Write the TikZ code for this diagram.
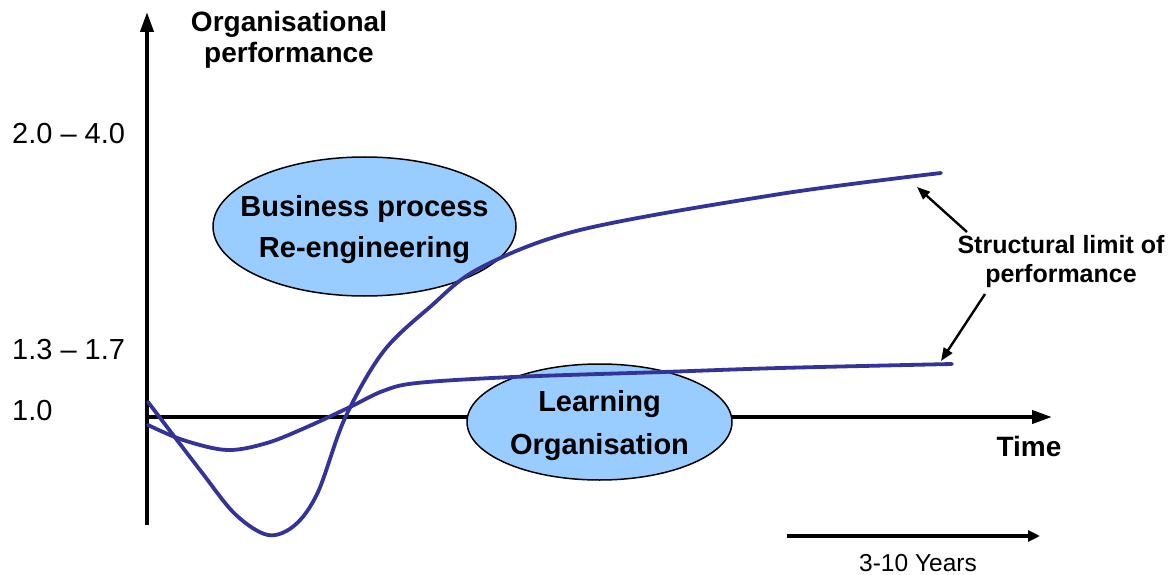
\documentclass[tikz,border=0pt]{standalone}
\usepackage{fontspec}
\setmainfont{Liberation Sans}
\usetikzlibrary{shapes.geometric,arrows.meta}
\definecolor{curveblue}{RGB}{51,51,153}
\definecolor{bubblefill}{RGB}{153,204,255}
\tikzset{
  axis/.style={line width=4pt,-{Triangle[length=20pt,width=13pt]}},
  bubble/.style={ellipse,draw=black,line width=1.5pt,fill=bubblefill,inner sep=0pt},
  curve/.style={line width=3.8pt,draw=curveblue,line join=round,line cap=round},
  note/.style={line width=2.4pt,-{Triangle[length=13pt,width=10pt]}},
  lbl/.style={font=\fontsize{29}{41}\selectfont\bfseries,align=center,inner sep=0pt},
  val/.style={font=\fontsize{29}{34}\selectfont,anchor=west,inner sep=0pt}
}
\begin{document}
\begin{tikzpicture}[x=1pt,y=-1pt]
    \useasboundingbox (0,0) rectangle (1176,575);

    % axes
    \coordinate (origin) at (147,417);
    \coordinate (ytop) at (147,12);
    \coordinate (ybot) at (147,525);
    \coordinate (xend) at (1052,417);
    \draw[axis] (ybot) -- (ytop);
    \draw[axis] (origin) -- (xend);

    \node[lbl,font=\fontsize{28}{31}\selectfont\bfseries] (perf) at (289,40) {Organisational\\performance};
    \node[lbl,font=\fontsize{28}{31}\selectfont\bfseries] (time) at (1029,446) {Time};

    % values on the vertical axis
    \foreach \y/\txt in {134/{2.0 -- 4.0}, 350/{1.3 -- 1.7}, 411/{1.0}} {
        \node[val] (tick\y) at (12,\y) {\txt};
    }

    % the two approaches
    \node[bubble,minimum width=303pt,minimum height=139pt] (bpr) at (364.5,226.5) {};
    \node[lbl] (bprtext) at (364.5,230) {Business process\\Re-engineering};
    \node[bubble,minimum width=265pt,minimum height=116pt] (learn) at (599.5,422) {};
    \node[lbl,font=\fontsize{29}{43}\selectfont\bfseries] (learntext) at (599.5,426) {Learning\\Organisation};

    % performance curves
    \draw[curve] plot[smooth,tension=0.55] coordinates {(148,402) (200,470) (235,514) (268,535)
        (295,525) (318,492) (345,418) (383,352) (430,307) (480,268) (580,230) (780,194) (941,173)};
    \draw[curve] plot[smooth,tension=0.55] coordinates {(148,425) (183,440) (227,450) (267,443)
        (307,427) (350,407) (383,391) (417,383) (513,377) (663,372) (780,368) (952,364)};

    % structural limits
    \node[lbl,font=\fontsize{25}{29}\selectfont\bfseries] (limit) at (1061,262) {Structural limit of\\performance};
    \coordinate (limtop) at (967,232);
    \coordinate (limbot) at (985,294);
    \coordinate (bprend) at (917,187);
    \coordinate (learnend) at (941,361);
    \draw[note] (limtop) -- (bprend);
    \draw[note] (limbot) -- (learnend);

    % duration
    \coordinate (yrstart) at (787,536);
    \coordinate (yrend) at (1040,536);
    \draw[line width=3.5pt,-{Triangle[length=12pt,width=11pt]}] (yrstart) -- (yrend);
    \node[font=\fontsize{24.5}{28}\selectfont,inner sep=0pt] (years) at (918,563) {3-10 Years};
\end{tikzpicture}
\end{document}
